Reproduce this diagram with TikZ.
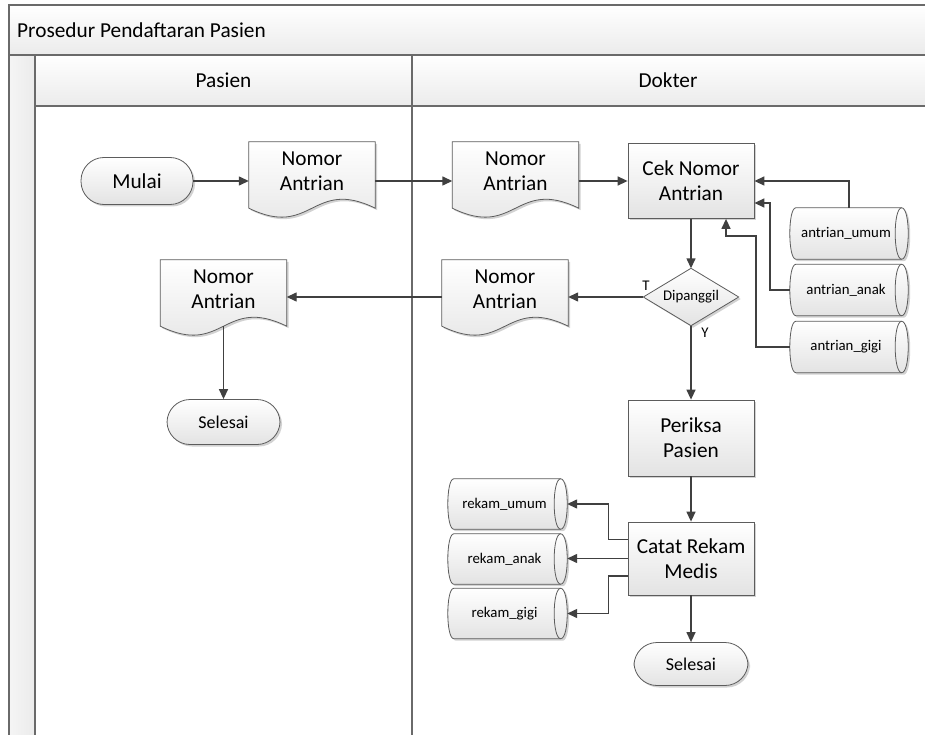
\documentclass[tikz,border=0pt]{standalone}
\usepackage{fontspec}
\setmainfont{Carlito}
\usetikzlibrary{arrows.meta,calc,shadows}

\definecolor{frame}{HTML}{6A6A6A}
\definecolor{edge}{HTML}{5C5C5C}
\definecolor{wire}{HTML}{404040}
\definecolor{shadeb}{HTML}{E3E3E3}
\definecolor{hdrb}{HTML}{EBEBEB}
\definecolor{shadowc}{HTML}{D2D2D2}

\newcommand\bigtxt{\fontsize{21.3}{25}\selectfont}
\newcommand\midtxt{\fontsize{18}{21}\selectfont}
\newcommand\smalltxt{\fontsize{14.8}{17}\selectfont}

% document symbol: straight top and sides, wavy bottom through the south anchor
\newcommand\docoutline[2]{%
  ($(#1.north west)+(#2,#2)$) -- ($(#1.north east)+(#2,#2)$) --
  ($(#1.south east)+(#2,#2)$) .. controls ($(#1.south)+(#2,#2)+(0,-31)$)
  and ($(#1.south)+(#2,#2)+(0,31)$) .. ($(#1.south west)+(#2,#2)$) -- cycle}
% stored-data symbol: horizontal drum
\newcommand\dboutline[2]{%
  ($(#1.north west)+(6+#2,#2)$) -- ($(#1.north east)+(-6.5+#2,#2)$)
  .. controls ($(#1.north east)+(2.2+#2,#2)$) and ($(#1.south east)+(2.2+#2,#2)$) ..
  ($(#1.south east)+(-6.5+#2,#2)$) -- ($(#1.south west)+(6+#2,#2)$)
  .. controls ($(#1.south west)+(-2+#2,#2)$) and ($(#1.north west)+(-2+#2,#2)$) ..
  ($(#1.north west)+(6+#2,#2)$) -- cycle}
\newcommand\dbinner[1]{%
  ($(#1.north east)+(-6.5,0)$) .. controls ($(#1.north east)+(-15.2,0)$)
  and ($(#1.south east)+(-15.2,0)$) .. ($(#1.south east)+(-6.5,0)$)}
\newcommand\diaoutline[2]{%
  ($(#1.north)+(#2,#2)$) -- ($(#1.east)+(#2,#2)$) -- ($(#1.south)+(#2,#2)$)
  -- ($(#1.west)+(#2,#2)$) -- cycle}

\pgfdeclarelayer{pool}
\pgfdeclarelayer{shapes}
\pgfsetlayers{pool,shapes,main}

\tikzset{
  solid shape/.style={draw=edge, line width=0.8pt, top color=white, bottom color=shadeb},
  proc/.style={solid shape, minimum width=126, minimum height=75, align=center,
    inner sep=0pt, font=\bigtxt,
    drop shadow={shadow xshift=2pt, shadow yshift=-2pt, fill=shadowc, opacity=1}},
  term/.style={proc, minimum width=112, minimum height=47, rounded corners=23pt},
  docbox/.style={minimum width=126, minimum height=66, inner sep=0pt},
  doctext/.style={align=center, font=\bigtxt, inner sep=0pt},
  % text sits a little left of centre, clear of the drum's right end
  dbbox/.style={minimum width=118, minimum height=51, inner sep=0pt, font=\smalltxt,
    execute at begin node={\hspace*{-6pt}}},
  decbox/.style={minimum width=95, minimum height=57, inner sep=0pt, font=\smalltxt},
  lbl/.style={font=\smalltxt, inner sep=0pt},
  flow/.style={draw=wire, line width=1.4pt, -{Triangle[length=10pt,width=9pt]}},
  lane/.style={draw=frame, line width=1.3pt}
}

\begin{document}
\begin{tikzpicture}[x=1pt,y=-1pt]
\clip (0,0) rectangle (925,735);

% ---- pool and lanes ----
\begin{pgfonlayer}{pool}
  \fill[white] (0,0) rectangle (925,735);
  \shade[top color=white, bottom color=hdrb] (9,5) rectangle (940,55);
  \shade[top color=white, bottom color=hdrb] (35,55) rectangle (940,106);
  \shade[left color=white!96!black, right color=hdrb] (9,55) rectangle (35,740);
  \draw[lane] (940,5) -- (9,5) -- (9,740);
  \draw[lane] (9,55) -- (940,55);
  \draw[lane] (35,55) -- (35,740);
  \draw[lane] (35,106) -- (940,106);
  \draw[lane] (412,55) -- (412,740);
\end{pgfonlayer}

\node[anchor=base west, font=\bigtxt, inner sep=0pt] (title) at (17,38) {Prosedur Pendaftaran Pasien};
\node[anchor=base, font=\bigtxt, inner sep=0pt] (lanep) at (223.5,88) {Pasien};
\node[anchor=base, font=\bigtxt, inner sep=0pt] (laned) at (668,88) {Dokter};

% ---- nodes ----
\node[term] (mulai) at (137,181) {Mulai};
\node[docbox] (d1) at (312,175) {};
\node[docbox] (d2) at (515.5,175) {};
\node[proc] (cek) at (691,181) {Cek Nomor\\Antrian};
\node[dbbox] (au) at (849,233.5) {antrian\_umum};
\node[dbbox] (aa) at (849,290) {antrian\_anak};
\node[dbbox] (ag) at (849,347) {antrian\_gigi};
\node[decbox] (dia) at (691,297) {Dipanggil};
\node[docbox] (d3) at (505,293) {};
\node[docbox] (d4) at (223.5,293) {};
\node[term, minimum width=113, minimum height=45, font=\midtxt] (end1) at (223.5,422) {Selesai};
\node[proc, minimum height=76] (per) at (691,438) {Periksa\\Pasien};
\node[proc, minimum height=73] (cat) at (691,558.5) {Catat Rekam\\Medis};
\node[dbbox, minimum width=119, minimum height=50] (ru) at (507.5,504) {rekam\_umum};
\node[dbbox, minimum width=119, minimum height=50] (ra) at (507.5,559) {rekam\_anak};
\node[dbbox, minimum width=119, minimum height=50] (rg) at (507.5,613.5) {rekam\_gigi};
\node[term, minimum width=114, minimum height=43, font=\midtxt] (end2) at (691,664) {Selesai};

\foreach \n in {d1,d2,d3,d4}
  \node[doctext] (\n t) at ($(\n.center)+(0,-4)$) {Nomor\\Antrian};

\node[lbl] (tlab) at (646,286) {T};
\node[lbl] (ylab) at (705,333) {Y};

% ---- custom symbol outlines ----
\begin{pgfonlayer}{shapes}
  \foreach \n in {d1,d2,d3,d4} {
    \fill[shadowc] \docoutline{\n}{2};
    \draw[solid shape] \docoutline{\n}{0};
  }
  \foreach \n in {au,aa,ag,ru,ra,rg} {
    \fill[shadowc] \dboutline{\n}{2};
    \draw[solid shape] \dboutline{\n}{0};
    \draw[draw=edge, line width=0.8pt] \dbinner{\n};
  }
  \fill[shadowc] \diaoutline{dia}{2};
  \draw[solid shape] \diaoutline{dia}{0};
\end{pgfonlayer}

% ---- connectors ----
\coordinate (ka) at (770,203);
\coordinate (kg) at (756,236);
\coordinate (kh) at (726,236);

\draw[flow] (mulai) -- (d1.west |- mulai);
\draw[flow] (d1.east |- mulai) -- (d2.west |- mulai);
\draw[flow] (d2.east |- cek) -- (cek.west);
\draw[flow] (au.north) |- (cek.east);
\draw[flow] (aa.west) -| (ka) -- (cek.east |- ka);
\draw[flow] (ag.west) -| (kg) -- (kh) -- (kh |- cek.south);
\draw[flow] (cek) -- (dia.north);
\draw[flow] (dia.west) -- (d3.east |- dia.west);
\draw[flow] (d3.west |- dia.west) -- (d4.east |- dia.west);
\draw[flow] (d4.south) -- (end1);
\draw[flow] (dia.south) -- (per);
\draw[flow] (per) -- (cat);
\draw[flow] (cat) -- (end2);
\draw[flow] ($(cat.west)+(0,-19)$) -- ++(-19,0) |- (ru.east);
\draw[flow] (cat.west) -- (cat.west -| ra.east);
\draw[flow] ($(cat.west)+(0,17.5)$) -- ++(-19,0) |- (rg.east);
\end{tikzpicture}
\end{document}
